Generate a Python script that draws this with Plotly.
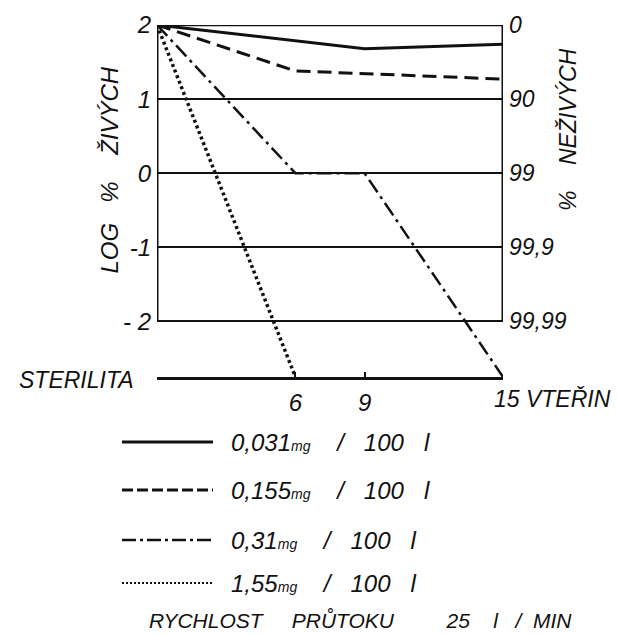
import plotly.graph_objects as go

# ---- data ----
STERILITA = -2.75          # position of the "sterility" level on the log axis
series_keys = ["0,031", "0,155", "0,31", "1,55"]
time_s = {
    "0,031": [0, 9, 15],
    "0,155": [0, 6, 15],
    "0,31": [0, 6, 9, 15],
    "1,55": [0, 6],
}
log_alive = {
    "0,031": [2, 1.68, 1.74],
    "0,155": [2, 1.38, 1.27],
    "0,31": [2, 0, 0, STERILITA],
    "1,55": [2, STERILITA],
}
left_ticks = [2, 1, 0, -1, -2]
left_text = ["2", "1", "0", "-1", "- 2"]
right_text = ["0", "90", "99", "99,9", "99,99"]
x_ticks = [6, 9]
x_text = ["6", "9"]

# ---- styles ----
dash_styles = ["solid", "14px,7px", "15px,5px,3px,5px", "3px,3px"]
line_widths = [3, 3, 2.5, 3.5]
legend_dash = ["solid", "11px,4px", "14px,4px,3px,4px", "2px,2px"]
legend_widths = [3, 3, 2.5, 2]
FONT = "Liberation Sans"
INK = "#111111"
W, H = 618, 635
ML, MR, MT, MB = 157, 115, 25, 258
PW, PH = W - ML - MR, H - MT - MB


def px(xp):
    return (xp - ML) / PW


def py(yp):
    return (H - yp - MB) / PH


fig = go.Figure()
for k, d, w in zip(series_keys, dash_styles, line_widths):
    fig.add_trace(go.Scatter(
        x=time_s[k], y=log_alive[k], mode="lines",
        line=dict(color=INK, width=w, dash=d),
        cliponaxis=False, showlegend=False, name=k + " mg/100 l"))

# invisible trace to activate the right axis
fig.add_trace(go.Scatter(x=[0], y=[0], yaxis="y2", mode="markers",
                         marker=dict(opacity=0), showlegend=False, hoverinfo="skip"))

fig.update_layout(
    width=W, height=H,
    margin=dict(l=ML, r=MR, t=MT, b=MB),
    paper_bgcolor="white", plot_bgcolor="white",
    font=dict(family=FONT, color=INK),
    xaxis=dict(range=[0, 15], showgrid=False, zeroline=False,
               showline=True, linecolor=INK, linewidth=3,
               tickvals=x_ticks, ticktext=x_text, ticks="inside", ticklen=5,
               tickwidth=2, tickcolor=INK, ticklabelstandoff=2,
               tickfont=dict(size=24, family=FONT, style="italic")),
    yaxis=dict(range=[STERILITA, 2], tickvals=left_ticks, ticktext=left_text,
               showgrid=True, gridcolor=INK, gridwidth=2, zeroline=False,
               showline=False, ticks="", ticklabelstandoff=5,
               tickfont=dict(size=24, family=FONT, style="italic")),
    yaxis2=dict(range=[STERILITA, 2], overlaying="y", side="right",
                tickvals=left_ticks, ticktext=right_text, showgrid=False,
                zeroline=False, showline=False, ticks="", ticklabelstandoff=5,
                tickfont=dict(size=23, family=FONT, style="italic")),
)

# frame: vertical axis lines (from -2 to 2) and top line at 2
for xv in [0, 15]:
    fig.add_shape(type="line", xref="x", yref="y", x0=xv, x1=xv, y0=-2, y1=2,
                  line=dict(color=INK, width=3))
fig.add_shape(type="line", xref="x", yref="y", x0=0, x1=15, y0=2, y1=2,
              line=dict(color=INK, width=2.5))

anns = [
    dict(text="LOG   %    ŽIVÝCH", x=px(93), y=py(170), textangle=-90,
         font=dict(size=24, style="italic")),
    dict(text="%    NEŽIVÝCH", x=px(583), y=py(130), textangle=-90,
         font=dict(size=23, style="italic")),
    dict(text="STERILITA", x=px(136), y=py(380), xanchor="right",
         font=dict(size=23, style="italic")),
    dict(text="15 VTEŘIN", x=px(492), y=py(399), xanchor="left",
         font=dict(size=23, style="italic")),
]

# legend drawn manually
legend_rows = [442, 490, 540, 583]
for c, d, w, ry in zip(series_keys, legend_dash, legend_widths, legend_rows):
    fig.add_shape(type="line", xref="paper", yref="paper",
                  x0=px(122), x1=px(213), y0=py(ry), y1=py(ry),
                  line=dict(color=INK, width=w, dash=d))
    anns.append(dict(
        text=f"{c}<span style='font-size:14px'>mg</span>    /   100   l",
        x=px(229), y=py(ry), xanchor="left",
        font=dict(size=24, style="italic")))
anns.append(dict(text="RYCHLOST     PRŮTOKU         25    l   /  MIN",
                 x=px(147), y=py(620), xanchor="left",
                 font=dict(size=21, style="italic")))

for a in anns:
    a.setdefault("xref", "paper")
    a.setdefault("yref", "paper")
    a.setdefault("showarrow", False)
    a.setdefault("yanchor", "middle")
fig.update_layout(annotations=anns)

fig.write_html("out.html")
